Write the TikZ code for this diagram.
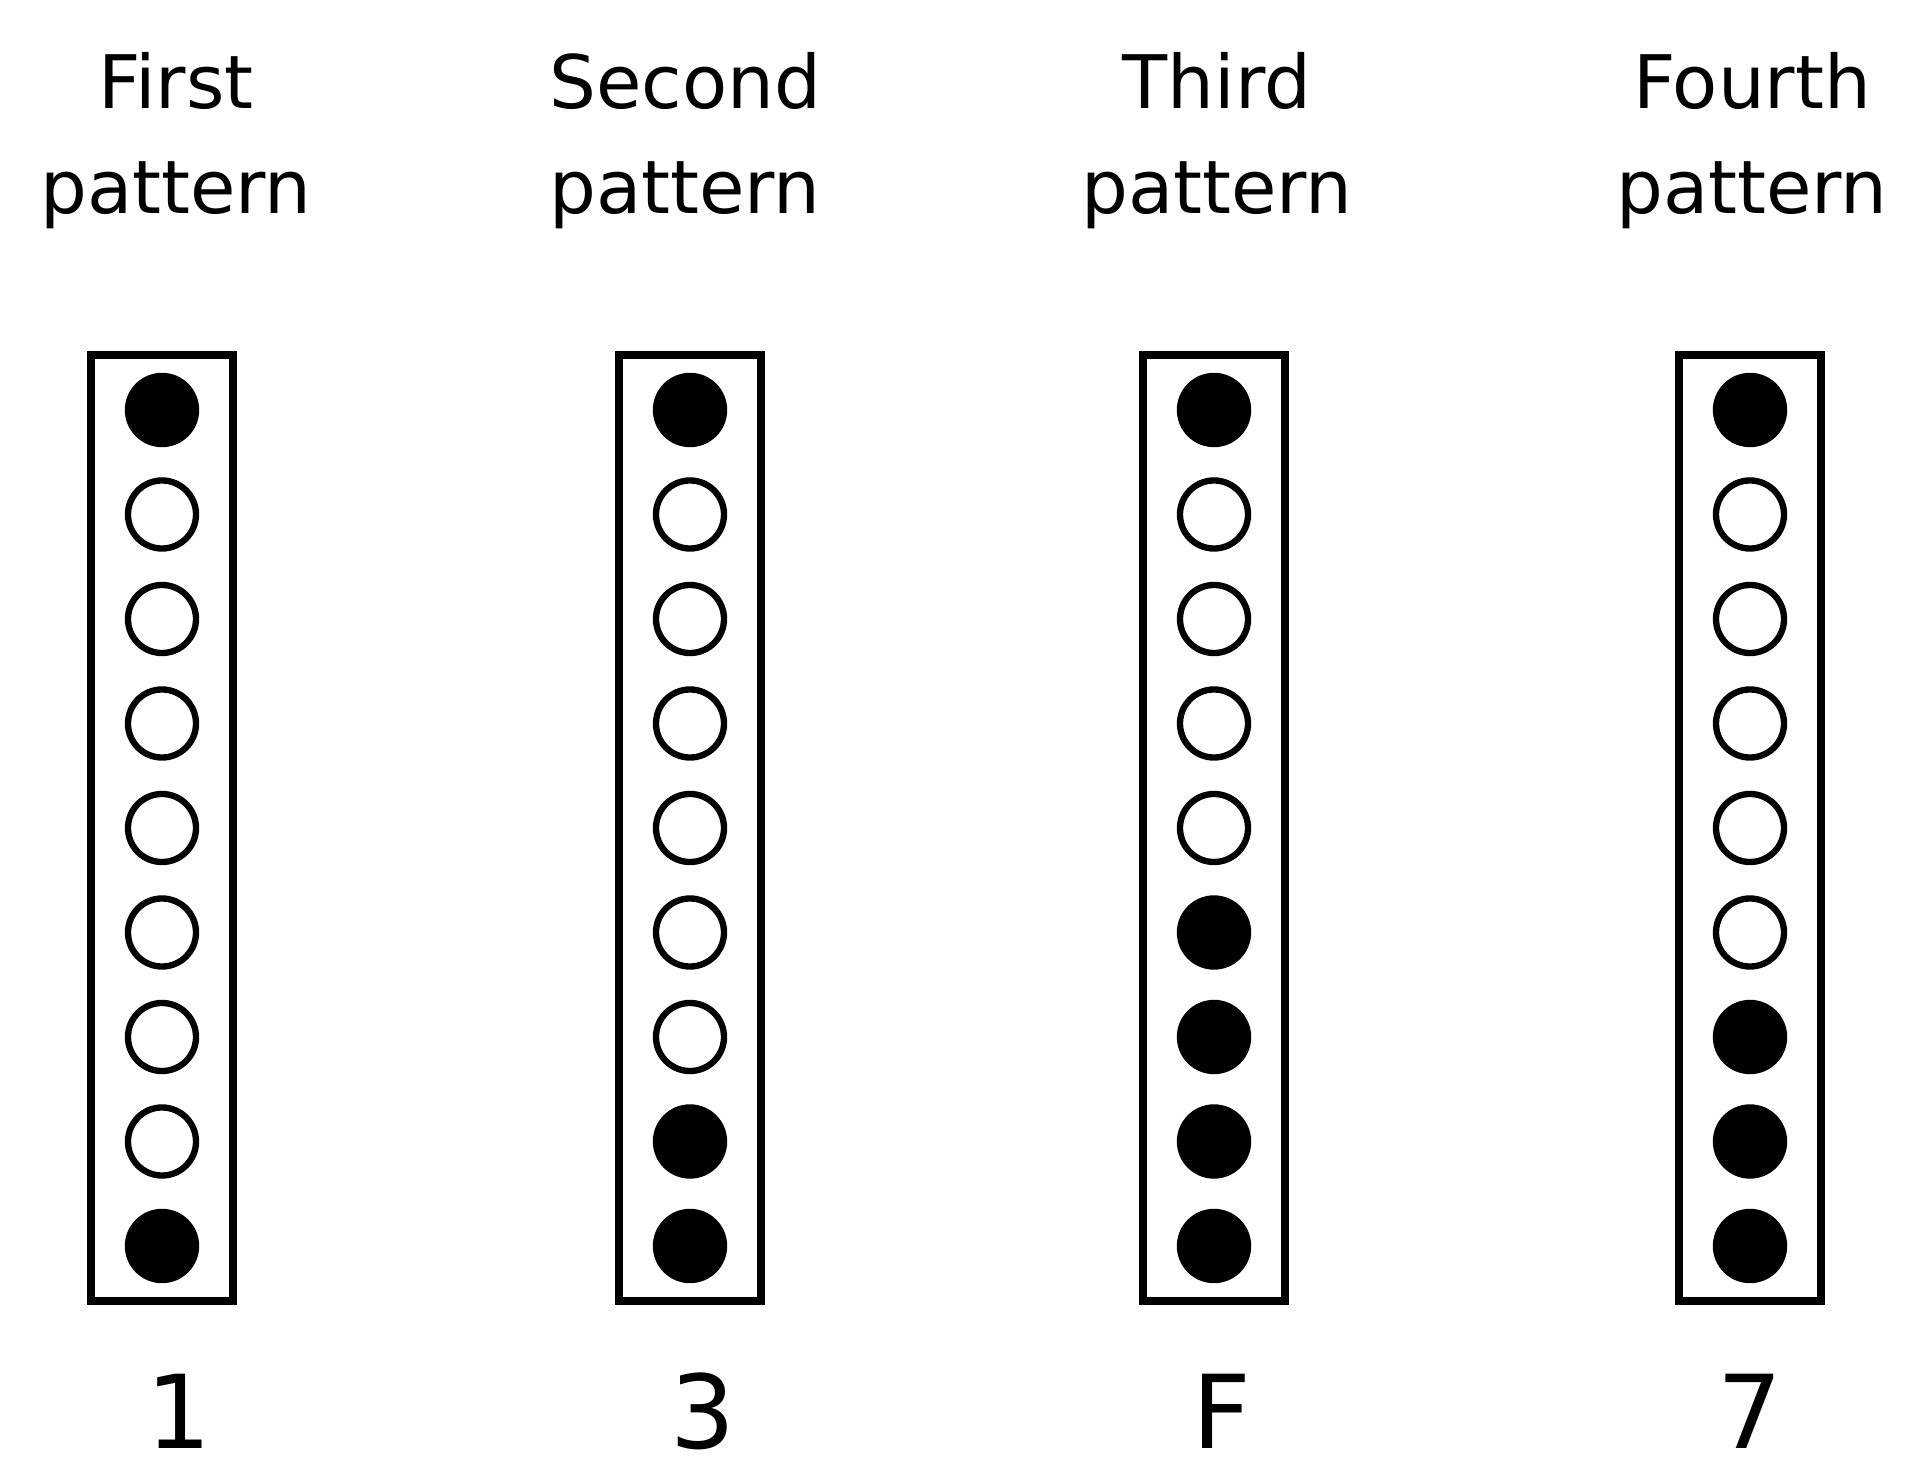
\documentclass[tikz,border=0pt]{standalone}
\usepackage{fontspec}
\setmainfont{DejaVu Sans}
\usetikzlibrary{positioning}

\tikzset{
  strip/.style={draw,line width=2.3pt,minimum width=1.42cm,
    minimum height=9.46cm,inner sep=0pt},
  dot/.style={circle,draw,line width=1.8pt,minimum size=0.68cm,inner sep=0pt},
  dot0/.style={dot,fill=white},
  dot1/.style={dot,fill=black},
  title/.style={font=\fontsize{21}{29.9}\selectfont,align=center,
    inner sep=0pt,anchor=south},
  digit/.style={font=\fontsize{29}{29}\selectfont,inner sep=0pt,anchor=base}
}

\begin{document}
\begin{tikzpicture}[x=0.01cm,y=-0.01cm]
  \useasboundingbox (0,0) rectangle (1906,1474);
  % one column per pattern: box, nine lamps, title and code
  \foreach \c/\bx/\tx/\dx/\word/\code/\bits in {
      1/162/176/179/First/1/{1,0,0,0,0,0,0,0,1},
      2/690/685/703/Second/3/{1,0,0,0,0,0,0,1,1},
      3/1214/1217/1222/Third/F/{1,0,0,0,0,1,1,1,1},
      4/1750/1752/1750/Fourth/7/{1,0,0,0,0,0,1,1,1}}{
    \node[title] (title\c) at (\tx,230) {\word\\pattern};
    \node[strip] (strip\c) at (\bx,828) {};
    \foreach \b [count=\r] in \bits
      \node[dot\b] (dot\c-\r) at (\bx,{410+104.5*(\r-1)}) {};
    \node[digit] (digit\c) at (\dx,1448) {\code};
  }
\end{tikzpicture}
\end{document}
